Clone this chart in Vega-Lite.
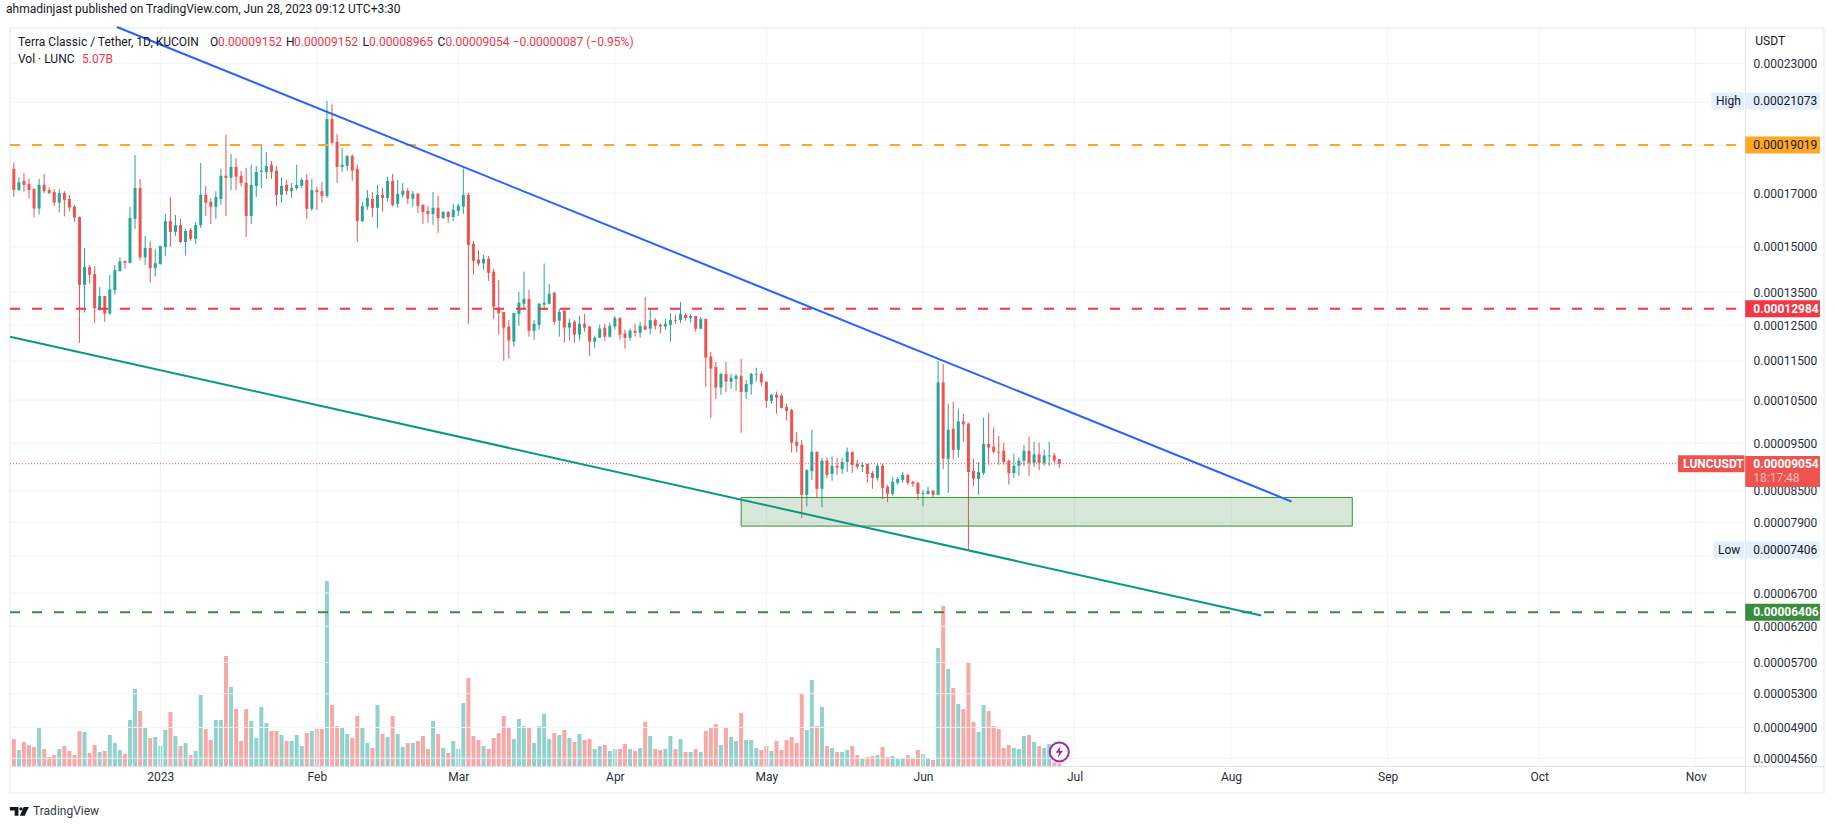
{
  "$schema": "https://vega.github.io/schema/vega-lite/v6.json",
  "autosize": "none",
  "padding": {"left": 10, "top": 28, "right": 11, "bottom": 36},
  "width": 1814,
  "height": 765,
  "background": "white",
  "title": {"text": "ahmadinjast published on TradingView.com, Jun 28, 2023 09:12 UTC+3:30", "anchor": "start", "fontSize": 12, "fontWeight": "normal", "color": "#131722", "offset": 7},
  "datasets": {
    "candles": [
      {"d":"2022-12-03","o":0.0001799,"h":0.0001825,"l":0.0001686,"c":0.0001713,"v":54},
      {"d":"2022-12-04","o":0.0001712,"h":0.0001764,"l":0.0001708,"c":0.0001744,"v":32},
      {"d":"2022-12-05","o":0.0001749,"h":0.0001782,"l":0.0001706,"c":0.0001733,"v":48},
      {"d":"2022-12-06","o":0.0001737,"h":0.0001757,"l":0.0001679,"c":0.0001712,"v":42},
      {"d":"2022-12-07","o":0.0001716,"h":0.0001719,"l":0.0001606,"c":0.0001640,"v":38},
      {"d":"2022-12-08","o":0.0001640,"h":0.0001757,"l":0.0001617,"c":0.0001733,"v":76},
      {"d":"2022-12-09","o":0.0001733,"h":0.0001778,"l":0.0001700,"c":0.0001708,"v":34},
      {"d":"2022-12-10","o":0.0001712,"h":0.0001723,"l":0.0001697,"c":0.0001700,"v":18},
      {"d":"2022-12-11","o":0.0001704,"h":0.0001716,"l":0.0001650,"c":0.0001663,"v":22},
      {"d":"2022-12-12","o":0.0001663,"h":0.0001716,"l":0.0001625,"c":0.0001700,"v":34},
      {"d":"2022-12-13","o":0.0001700,"h":0.0001708,"l":0.0001610,"c":0.0001674,"v":40},
      {"d":"2022-12-14","o":0.0001677,"h":0.0001693,"l":0.0001629,"c":0.0001644,"v":30},
      {"d":"2022-12-15","o":0.0001647,"h":0.0001654,"l":0.0001590,"c":0.0001606,"v":22},
      {"d":"2022-12-16","o":0.0001608,"h":0.0001610,"l":0.0001200,"c":0.0001373,"v":70},
      {"d":"2022-12-17","o":0.0001373,"h":0.0001496,"l":0.0001287,"c":0.0001431,"v":68},
      {"d":"2022-12-18","o":0.0001431,"h":0.0001438,"l":0.0001377,"c":0.0001406,"v":26},
      {"d":"2022-12-19","o":0.0001408,"h":0.0001434,"l":0.0001257,"c":0.0001300,"v":42},
      {"d":"2022-12-20","o":0.0001296,"h":0.0001366,"l":0.0001293,"c":0.0001338,"v":28},
      {"d":"2022-12-21","o":0.0001338,"h":0.0001338,"l":0.0001260,"c":0.0001284,"v":30},
      {"d":"2022-12-22","o":0.0001284,"h":0.0001405,"l":0.0001281,"c":0.0001359,"v":62},
      {"d":"2022-12-23","o":0.0001356,"h":0.0001438,"l":0.0001342,"c":0.0001421,"v":46},
      {"d":"2022-12-24","o":0.0001418,"h":0.0001464,"l":0.0001416,"c":0.0001451,"v":32},
      {"d":"2022-12-25","o":0.0001451,"h":0.0001454,"l":0.0001425,"c":0.0001445,"v":24},
      {"d":"2022-12-26","o":0.0001445,"h":0.0001647,"l":0.0001443,"c":0.0001605,"v":92},
      {"d":"2022-12-27","o":0.0001601,"h":0.0001858,"l":0.0001564,"c":0.0001720,"v":154},
      {"d":"2022-12-28","o":0.0001720,"h":0.0001757,"l":0.0001454,"c":0.0001464,"v":110},
      {"d":"2022-12-29","o":0.0001464,"h":0.0001539,"l":0.0001438,"c":0.0001496,"v":76},
      {"d":"2022-12-30","o":0.0001496,"h":0.0001521,"l":0.0001380,"c":0.0001428,"v":56},
      {"d":"2022-12-31","o":0.0001428,"h":0.0001492,"l":0.0001400,"c":0.0001444,"v":58},
      {"d":"2023-01-01","o":0.0001441,"h":0.0001504,"l":0.0001440,"c":0.0001503,"v":40},
      {"d":"2023-01-02","o":0.0001500,"h":0.0001620,"l":0.0001469,"c":0.0001593,"v":72},
      {"d":"2023-01-03","o":0.0001593,"h":0.0001685,"l":0.0001500,"c":0.0001553,"v":108},
      {"d":"2023-01-04","o":0.0001553,"h":0.0001616,"l":0.0001539,"c":0.0001578,"v":60},
      {"d":"2023-01-05","o":0.0001578,"h":0.0001601,"l":0.0001514,"c":0.0001517,"v":40},
      {"d":"2023-01-06","o":0.0001517,"h":0.0001564,"l":0.0001471,"c":0.0001557,"v":46},
      {"d":"2023-01-07","o":0.0001560,"h":0.0001567,"l":0.0001521,"c":0.0001528,"v":22},
      {"d":"2023-01-08","o":0.0001528,"h":0.0001589,"l":0.0001510,"c":0.0001578,"v":30},
      {"d":"2023-01-09","o":0.0001578,"h":0.0001824,"l":0.0001567,"c":0.0001693,"v":142},
      {"d":"2023-01-10","o":0.0001693,"h":0.0001729,"l":0.0001612,"c":0.0001662,"v":74},
      {"d":"2023-01-11","o":0.0001666,"h":0.0001681,"l":0.0001582,"c":0.0001647,"v":52},
      {"d":"2023-01-12","o":0.0001647,"h":0.0001708,"l":0.0001601,"c":0.0001685,"v":92},
      {"d":"2023-01-13","o":0.0001677,"h":0.0001799,"l":0.0001654,"c":0.0001770,"v":92},
      {"d":"2023-01-14","o":0.0001770,"h":0.0001948,"l":0.0001612,"c":0.0001762,"v":220},
      {"d":"2023-01-15","o":0.0001762,"h":0.0001862,"l":0.0001712,"c":0.0001807,"v":158},
      {"d":"2023-01-16","o":0.0001807,"h":0.0001844,"l":0.0001712,"c":0.0001766,"v":114},
      {"d":"2023-01-17","o":0.0001770,"h":0.0001791,"l":0.0001727,"c":0.0001741,"v":50},
      {"d":"2023-01-18","o":0.0001741,"h":0.0001803,"l":0.0001535,"c":0.0001612,"v":114},
      {"d":"2023-01-19","o":0.0001612,"h":0.0001816,"l":0.0001582,"c":0.0001733,"v":90},
      {"d":"2023-01-20","o":0.0001729,"h":0.0001811,"l":0.0001685,"c":0.0001786,"v":56},
      {"d":"2023-01-21","o":0.0001786,"h":0.0001905,"l":0.0001720,"c":0.0001791,"v":118},
      {"d":"2023-01-22","o":0.0001786,"h":0.0001871,"l":0.0001757,"c":0.0001811,"v":86},
      {"d":"2023-01-23","o":0.0001816,"h":0.0001832,"l":0.0001757,"c":0.0001786,"v":70},
      {"d":"2023-01-24","o":0.0001791,"h":0.0001811,"l":0.0001650,"c":0.0001693,"v":70},
      {"d":"2023-01-25","o":0.0001693,"h":0.0001762,"l":0.0001662,"c":0.0001729,"v":62},
      {"d":"2023-01-26","o":0.0001733,"h":0.0001753,"l":0.0001693,"c":0.0001708,"v":50},
      {"d":"2023-01-27","o":0.0001708,"h":0.0001741,"l":0.0001681,"c":0.0001720,"v":50},
      {"d":"2023-01-28","o":0.0001720,"h":0.0001816,"l":0.0001712,"c":0.0001733,"v":62},
      {"d":"2023-01-29","o":0.0001729,"h":0.0001762,"l":0.0001720,"c":0.0001753,"v":40},
      {"d":"2023-01-30","o":0.0001753,"h":0.0001778,"l":0.0001601,"c":0.0001639,"v":66},
      {"d":"2023-01-31","o":0.0001639,"h":0.0001757,"l":0.0001631,"c":0.0001712,"v":70},
      {"d":"2023-02-01","o":0.0001712,"h":0.0001724,"l":0.0001635,"c":0.0001704,"v":74},
      {"d":"2023-02-02","o":0.0001708,"h":0.0001745,"l":0.0001662,"c":0.0001689,"v":74},
      {"d":"2023-02-03","o":0.0001689,"h":0.0002107,"l":0.0001681,"c":0.0002020,"v":370},
      {"d":"2023-02-04","o":0.0002020,"h":0.0002093,"l":0.0001903,"c":0.0001912,"v":122},
      {"d":"2023-02-05","o":0.0001916,"h":0.0001952,"l":0.0001741,"c":0.0001807,"v":80},
      {"d":"2023-02-06","o":0.0001807,"h":0.0001889,"l":0.0001786,"c":0.0001816,"v":76},
      {"d":"2023-02-07","o":0.0001811,"h":0.0001858,"l":0.0001791,"c":0.0001853,"v":64},
      {"d":"2023-02-08","o":0.0001853,"h":0.0001862,"l":0.0001749,"c":0.0001791,"v":56},
      {"d":"2023-02-09","o":0.0001799,"h":0.0001816,"l":0.0001517,"c":0.0001593,"v":100},
      {"d":"2023-02-10","o":0.0001593,"h":0.0001666,"l":0.0001589,"c":0.0001650,"v":76},
      {"d":"2023-02-11","o":0.0001647,"h":0.0001712,"l":0.0001635,"c":0.0001681,"v":46},
      {"d":"2023-02-12","o":0.0001677,"h":0.0001704,"l":0.0001608,"c":0.0001643,"v":36},
      {"d":"2023-02-13","o":0.0001643,"h":0.0001733,"l":0.0001567,"c":0.0001693,"v":122},
      {"d":"2023-02-14","o":0.0001693,"h":0.0001720,"l":0.0001628,"c":0.0001681,"v":64},
      {"d":"2023-02-15","o":0.0001681,"h":0.0001766,"l":0.0001666,"c":0.0001749,"v":58},
      {"d":"2023-02-16","o":0.0001749,"h":0.0001778,"l":0.0001647,"c":0.0001654,"v":100},
      {"d":"2023-02-17","o":0.0001658,"h":0.0001753,"l":0.0001643,"c":0.0001697,"v":64},
      {"d":"2023-02-18","o":0.0001693,"h":0.0001740,"l":0.0001682,"c":0.0001709,"v":38},
      {"d":"2023-02-19","o":0.0001709,"h":0.0001721,"l":0.0001658,"c":0.0001678,"v":46},
      {"d":"2023-02-20","o":0.0001678,"h":0.0001709,"l":0.0001647,"c":0.0001697,"v":46},
      {"d":"2023-02-21","o":0.0001697,"h":0.0001701,"l":0.0001623,"c":0.0001651,"v":50},
      {"d":"2023-02-22","o":0.0001654,"h":0.0001658,"l":0.0001583,"c":0.0001627,"v":60},
      {"d":"2023-02-23","o":0.0001631,"h":0.0001651,"l":0.0001586,"c":0.0001619,"v":34},
      {"d":"2023-02-24","o":0.0001619,"h":0.0001705,"l":0.0001579,"c":0.0001643,"v":90},
      {"d":"2023-02-25","o":0.0001643,"h":0.0001690,"l":0.0001550,"c":0.0001604,"v":64},
      {"d":"2023-02-26","o":0.0001604,"h":0.0001631,"l":0.0001601,"c":0.0001627,"v":36},
      {"d":"2023-02-27","o":0.0001627,"h":0.0001631,"l":0.0001586,"c":0.0001608,"v":26},
      {"d":"2023-02-28","o":0.0001608,"h":0.0001658,"l":0.0001593,"c":0.0001635,"v":50},
      {"d":"2023-03-01","o":0.0001631,"h":0.0001658,"l":0.0001612,"c":0.0001651,"v":34},
      {"d":"2023-03-02","o":0.0001647,"h":0.0001800,"l":0.0001619,"c":0.0001693,"v":126},
      {"d":"2023-03-03","o":0.0001693,"h":0.0001701,"l":0.0001254,"c":0.0001507,"v":176},
      {"d":"2023-03-04","o":0.0001511,"h":0.0001521,"l":0.0001406,"c":0.0001452,"v":60},
      {"d":"2023-03-05","o":0.0001456,"h":0.0001489,"l":0.0001436,"c":0.0001443,"v":52},
      {"d":"2023-03-06","o":0.0001443,"h":0.0001472,"l":0.0001422,"c":0.0001459,"v":40},
      {"d":"2023-03-07","o":0.0001459,"h":0.0001469,"l":0.0001386,"c":0.0001412,"v":34},
      {"d":"2023-03-08","o":0.0001416,"h":0.0001426,"l":0.0001268,"c":0.0001305,"v":56},
      {"d":"2023-03-09","o":0.0001302,"h":0.0001389,"l":0.0001223,"c":0.0001286,"v":66},
      {"d":"2023-03-10","o":0.0001289,"h":0.0001289,"l":0.0001151,"c":0.0001243,"v":100},
      {"d":"2023-03-11","o":0.0001246,"h":0.0001265,"l":0.0001156,"c":0.0001206,"v":76},
      {"d":"2023-03-12","o":0.0001203,"h":0.0001286,"l":0.0001189,"c":0.0001286,"v":54},
      {"d":"2023-03-13","o":0.0001283,"h":0.0001351,"l":0.0001248,"c":0.0001317,"v":94},
      {"d":"2023-03-14","o":0.0001314,"h":0.0001416,"l":0.0001299,"c":0.0001329,"v":80},
      {"d":"2023-03-15","o":0.0001329,"h":0.0001357,"l":0.0001217,"c":0.0001234,"v":76},
      {"d":"2023-03-16","o":0.0001234,"h":0.0001265,"l":0.0001208,"c":0.0001254,"v":46},
      {"d":"2023-03-17","o":0.0001251,"h":0.0001317,"l":0.0001237,"c":0.0001314,"v":80},
      {"d":"2023-03-18","o":0.0001311,"h":0.0001443,"l":0.0001296,"c":0.0001317,"v":104},
      {"d":"2023-03-19","o":0.0001314,"h":0.0001376,"l":0.0001312,"c":0.0001345,"v":54},
      {"d":"2023-03-20","o":0.0001348,"h":0.0001351,"l":0.0001251,"c":0.0001260,"v":66},
      {"d":"2023-03-21","o":0.0001263,"h":0.0001299,"l":0.0001217,"c":0.0001289,"v":62},
      {"d":"2023-03-22","o":0.0001293,"h":0.0001296,"l":0.0001200,"c":0.0001243,"v":72},
      {"d":"2023-03-23","o":0.0001243,"h":0.0001268,"l":0.0001206,"c":0.0001257,"v":56},
      {"d":"2023-03-24","o":0.0001260,"h":0.0001265,"l":0.0001200,"c":0.0001223,"v":48},
      {"d":"2023-03-25","o":0.0001223,"h":0.0001277,"l":0.0001206,"c":0.0001254,"v":64},
      {"d":"2023-03-26","o":0.0001254,"h":0.0001283,"l":0.0001231,"c":0.0001243,"v":52},
      {"d":"2023-03-27","o":0.0001246,"h":0.0001248,"l":0.0001164,"c":0.0001203,"v":54},
      {"d":"2023-03-28","o":0.0001203,"h":0.0001220,"l":0.0001186,"c":0.0001214,"v":34},
      {"d":"2023-03-29","o":0.0001214,"h":0.0001251,"l":0.0001213,"c":0.0001240,"v":40},
      {"d":"2023-03-30","o":0.0001243,"h":0.0001254,"l":0.0001206,"c":0.0001217,"v":42},
      {"d":"2023-03-31","o":0.0001217,"h":0.0001257,"l":0.0001214,"c":0.0001248,"v":30},
      {"d":"2023-04-01","o":0.0001246,"h":0.0001277,"l":0.0001237,"c":0.0001271,"v":34},
      {"d":"2023-04-02","o":0.0001271,"h":0.0001274,"l":0.0001208,"c":0.0001223,"v":34},
      {"d":"2023-04-03","o":0.0001226,"h":0.0001237,"l":0.0001183,"c":0.0001214,"v":44},
      {"d":"2023-04-04","o":0.0001214,"h":0.0001240,"l":0.0001206,"c":0.0001234,"v":34},
      {"d":"2023-04-05","o":0.0001234,"h":0.0001254,"l":0.0001217,"c":0.0001228,"v":30},
      {"d":"2023-04-06","o":0.0001228,"h":0.0001260,"l":0.0001214,"c":0.0001248,"v":36},
      {"d":"2023-04-07","o":0.0001248,"h":0.0001336,"l":0.0001236,"c":0.0001237,"v":88},
      {"d":"2023-04-08","o":0.0001240,"h":0.0001299,"l":0.0001223,"c":0.0001265,"v":60},
      {"d":"2023-04-09","o":0.0001265,"h":0.0001271,"l":0.0001237,"c":0.0001248,"v":34},
      {"d":"2023-04-10","o":0.0001251,"h":0.0001254,"l":0.0001226,"c":0.0001246,"v":32},
      {"d":"2023-04-11","o":0.0001246,"h":0.0001268,"l":0.0001237,"c":0.0001254,"v":34},
      {"d":"2023-04-12","o":0.0001251,"h":0.0001286,"l":0.0001203,"c":0.0001265,"v":60},
      {"d":"2023-04-13","o":0.0001265,"h":0.0001280,"l":0.0001254,"c":0.0001263,"v":34},
      {"d":"2023-04-14","o":0.0001265,"h":0.0001320,"l":0.0001257,"c":0.0001283,"v":54},
      {"d":"2023-04-15","o":0.0001280,"h":0.0001286,"l":0.0001263,"c":0.0001271,"v":28},
      {"d":"2023-04-16","o":0.0001271,"h":0.0001283,"l":0.0001257,"c":0.0001277,"v":28},
      {"d":"2023-04-17","o":0.0001277,"h":0.0001277,"l":0.0001231,"c":0.0001240,"v":34},
      {"d":"2023-04-18","o":0.0001240,"h":0.0001274,"l":0.0001239,"c":0.0001268,"v":28},
      {"d":"2023-04-19","o":0.0001268,"h":0.0001271,"l":0.0001083,"c":0.0001159,"v":70},
      {"d":"2023-04-20","o":0.0001162,"h":0.0001175,"l":0.0001007,"c":0.0001130,"v":78},
      {"d":"2023-04-21","o":0.0001134,"h":0.0001148,"l":0.0001053,"c":0.0001081,"v":84},
      {"d":"2023-04-22","o":0.0001081,"h":0.0001119,"l":0.0001063,"c":0.0001116,"v":42},
      {"d":"2023-04-23","o":0.0001116,"h":0.0001148,"l":0.0001070,"c":0.0001096,"v":78},
      {"d":"2023-04-24","o":0.0001096,"h":0.0001116,"l":0.0001078,"c":0.0001106,"v":58},
      {"d":"2023-04-25","o":0.0001103,"h":0.0001116,"l":0.0001073,"c":0.0001111,"v":50},
      {"d":"2023-04-26","o":0.0001111,"h":0.0001156,"l":0.0000973,"c":0.0001070,"v":106},
      {"d":"2023-04-27","o":0.0001070,"h":0.0001100,"l":0.0001053,"c":0.0001090,"v":52},
      {"d":"2023-04-28","o":0.0001089,"h":0.0001119,"l":0.0001063,"c":0.0001116,"v":52},
      {"d":"2023-04-29","o":0.0001114,"h":0.0001132,"l":0.0001096,"c":0.0001116,"v":36},
      {"d":"2023-04-30","o":0.0001116,"h":0.0001122,"l":0.0001084,"c":0.0001094,"v":32},
      {"d":"2023-05-01","o":0.0001096,"h":0.0001096,"l":0.0001031,"c":0.0001048,"v":40},
      {"d":"2023-05-02","o":0.0001048,"h":0.0001066,"l":0.0001041,"c":0.0001063,"v":30},
      {"d":"2023-05-03","o":0.0001063,"h":0.0001071,"l":0.0001017,"c":0.0001056,"v":50},
      {"d":"2023-05-04","o":0.0001061,"h":0.0001066,"l":0.0001030,"c":0.0001031,"v":32},
      {"d":"2023-05-05","o":0.0001033,"h":0.0001041,"l":0.0001001,"c":0.0001024,"v":52},
      {"d":"2023-05-06","o":0.0001026,"h":0.0001029,"l":0.0000929,"c":0.0000951,"v":58},
      {"d":"2023-05-07","o":0.0000953,"h":0.0000975,"l":0.0000929,"c":0.0000944,"v":46},
      {"d":"2023-05-08","o":0.0000946,"h":0.0000957,"l":0.0000798,"c":0.0000842,"v":146},
      {"d":"2023-05-09","o":0.0000842,"h":0.0000894,"l":0.0000820,"c":0.0000892,"v":72},
      {"d":"2023-05-10","o":0.0000890,"h":0.0000980,"l":0.0000872,"c":0.0000931,"v":172},
      {"d":"2023-05-11","o":0.0000931,"h":0.0000931,"l":0.0000836,"c":0.0000854,"v":80},
      {"d":"2023-05-12","o":0.0000854,"h":0.0000918,"l":0.0000818,"c":0.0000912,"v":118},
      {"d":"2023-05-13","o":0.0000912,"h":0.0000918,"l":0.0000876,"c":0.0000882,"v":40},
      {"d":"2023-05-14","o":0.0000884,"h":0.0000921,"l":0.0000870,"c":0.0000901,"v":36},
      {"d":"2023-05-15","o":0.0000901,"h":0.0000918,"l":0.0000882,"c":0.0000897,"v":28},
      {"d":"2023-05-16","o":0.0000894,"h":0.0000918,"l":0.0000884,"c":0.0000909,"v":28},
      {"d":"2023-05-17","o":0.0000909,"h":0.0000940,"l":0.0000888,"c":0.0000931,"v":32},
      {"d":"2023-05-18","o":0.0000931,"h":0.0000931,"l":0.0000886,"c":0.0000903,"v":40},
      {"d":"2023-05-19","o":0.0000905,"h":0.0000914,"l":0.0000894,"c":0.0000899,"v":22},
      {"d":"2023-05-20","o":0.0000899,"h":0.0000909,"l":0.0000888,"c":0.0000903,"v":16},
      {"d":"2023-05-21","o":0.0000905,"h":0.0000905,"l":0.0000866,"c":0.0000884,"v":18},
      {"d":"2023-05-22","o":0.0000886,"h":0.0000890,"l":0.0000854,"c":0.0000876,"v":20},
      {"d":"2023-05-23","o":0.0000876,"h":0.0000907,"l":0.0000870,"c":0.0000901,"v":22},
      {"d":"2023-05-24","o":0.0000901,"h":0.0000905,"l":0.0000834,"c":0.0000856,"v":38},
      {"d":"2023-05-25","o":0.0000858,"h":0.0000862,"l":0.0000828,"c":0.0000844,"v":18},
      {"d":"2023-05-26","o":0.0000844,"h":0.0000878,"l":0.0000840,"c":0.0000868,"v":20},
      {"d":"2023-05-27","o":0.0000866,"h":0.0000878,"l":0.0000862,"c":0.0000874,"v":14},
      {"d":"2023-05-28","o":0.0000872,"h":0.0000888,"l":0.0000866,"c":0.0000882,"v":16},
      {"d":"2023-05-29","o":0.0000882,"h":0.0000884,"l":0.0000862,"c":0.0000866,"v":22},
      {"d":"2023-05-30","o":0.0000868,"h":0.0000870,"l":0.0000858,"c":0.0000864,"v":16},
      {"d":"2023-05-31","o":0.0000866,"h":0.0000868,"l":0.0000832,"c":0.0000844,"v":32},
      {"d":"2023-06-01","o":0.0000844,"h":0.0000852,"l":0.0000820,"c":0.0000846,"v":24},
      {"d":"2023-06-02","o":0.0000844,"h":0.0000858,"l":0.0000842,"c":0.0000850,"v":16},
      {"d":"2023-06-03","o":0.0000850,"h":0.0000852,"l":0.0000838,"c":0.0000842,"v":12},
      {"d":"2023-06-04","o":0.0000842,"h":0.0001149,"l":0.0000841,"c":0.0001094,"v":236},
      {"d":"2023-06-05","o":0.0001094,"h":0.0001143,"l":0.0000894,"c":0.0000916,"v":320},
      {"d":"2023-06-06","o":0.0000916,"h":0.0001041,"l":0.0000846,"c":0.0000980,"v":194},
      {"d":"2023-06-07","o":0.0000982,"h":0.0001046,"l":0.0000914,"c":0.0000935,"v":156},
      {"d":"2023-06-08","o":0.0000935,"h":0.0001029,"l":0.0000918,"c":0.0000999,"v":124},
      {"d":"2023-06-09","o":0.0000999,"h":0.0001017,"l":0.0000953,"c":0.0000992,"v":114},
      {"d":"2023-06-10","o":0.0000994,"h":0.0000996,"l":0.0000741,"c":0.0000888,"v":206},
      {"d":"2023-06-11","o":0.0000890,"h":0.0000916,"l":0.0000860,"c":0.0000874,"v":88},
      {"d":"2023-06-12","o":0.0000874,"h":0.0000909,"l":0.0000842,"c":0.0000888,"v":68},
      {"d":"2023-06-13","o":0.0000886,"h":0.0001008,"l":0.0000882,"c":0.0000948,"v":122},
      {"d":"2023-06-14","o":0.0000948,"h":0.0001019,"l":0.0000903,"c":0.0000940,"v":110},
      {"d":"2023-06-15","o":0.0000942,"h":0.0000985,"l":0.0000927,"c":0.0000931,"v":80},
      {"d":"2023-06-16","o":0.0000931,"h":0.0000966,"l":0.0000903,"c":0.0000929,"v":74},
      {"d":"2023-06-17","o":0.0000933,"h":0.0000951,"l":0.0000903,"c":0.0000909,"v":36},
      {"d":"2023-06-18","o":0.0000912,"h":0.0000914,"l":0.0000862,"c":0.0000886,"v":42},
      {"d":"2023-06-19","o":0.0000886,"h":0.0000927,"l":0.0000876,"c":0.0000901,"v":36},
      {"d":"2023-06-20","o":0.0000901,"h":0.0000918,"l":0.0000880,"c":0.0000912,"v":34},
      {"d":"2023-06-21","o":0.0000912,"h":0.0000946,"l":0.0000901,"c":0.0000933,"v":60},
      {"d":"2023-06-22","o":0.0000933,"h":0.0000964,"l":0.0000880,"c":0.0000907,"v":62},
      {"d":"2023-06-23","o":0.0000907,"h":0.0000953,"l":0.0000899,"c":0.0000925,"v":48},
      {"d":"2023-06-24","o":0.0000925,"h":0.0000951,"l":0.0000892,"c":0.0000907,"v":40},
      {"d":"2023-06-25","o":0.0000907,"h":0.0000935,"l":0.0000901,"c":0.0000923,"v":36},
      {"d":"2023-06-26","o":0.0000921,"h":0.0000953,"l":0.0000901,"c":0.0000923,"v":44},
      {"d":"2023-06-27","o":0.0000923,"h":0.0000929,"l":0.0000907,"c":0.0000912,"v":7},
      {"d":"2023-06-28","o":0.00009152,"h":0.00009152,"l":0.00008965,"c":0.00009054,"v":5.07}
    ],
    "months": [
      {"d":"2023-01-01"},{"d":"2023-02-01"},{"d":"2023-03-01"},{"d":"2023-04-01"},{"d":"2023-05-01"},{"d":"2023-06-01"},
      {"d":"2023-07-01"},{"d":"2023-08-01"},{"d":"2023-09-01"},{"d":"2023-10-01"},{"d":"2023-11-01"}
    ],
    "prices": [
      {"p":0.00023},{"p":0.00021},{"p":0.00019},{"p":0.00017},{"p":0.00015},{"p":0.000135},{"p":0.000125},{"p":0.000115},{"p":0.000105},
      {"p":0.000095},{"p":0.000085},{"p":0.000079},{"p":0.000073},{"p":0.000067},{"p":0.000062},{"p":0.000057},{"p":0.000053},{"p":0.000049},{"p":0.0000456}
    ],
    "levels": [
      {"p":0.00019019,"color":"#ffa726"},
      {"p":0.00012984,"color":"#f23645"},
      {"p":0.00006406,"color":"#388e3c"}
    ],
    "trendlines": [
      {"line":"resistance","d":"2022-12-23T10:00:00Z","p":0.0002503},
      {"line":"resistance","d":"2023-08-13","p":0.0000829},
      {"line":"support","d":"2022-12-02T06:00:00Z","p":0.0001217},
      {"line":"support","d":"2023-08-07","p":0.00006357}
    ],
    "zone": [{"start":"2023-04-26","end":"2023-08-25","top":0.0000837,"bottom":0.0000783}],
    "tags": [
      {"from":"2023-11-10T19:12:00Z","to":"2023-11-25T14:24:00Z","p":0.00021073,"h":17,"color":"#e3effd"},
      {"from":"2023-11-04T02:24:00Z","to":"2023-11-10T16:00:00Z","p":0.00021073,"h":17,"color":"#e3effd"},
      {"from":"2023-11-10T19:12:00Z","to":"2023-11-25T14:24:00Z","p":0.00019019,"h":17,"color":"#ffa726"},
      {"from":"2023-11-10T19:12:00Z","to":"2023-11-25T14:24:00Z","p":0.00012984,"h":17,"color":"#f23645"},
      {"from":"2023-11-10T19:12:00Z","to":"2023-11-25T14:24:00Z","p":0.0000889,"h":31,"color":"#ef5350"},
      {"from":"2023-10-28T12:00:00Z","to":"2023-11-10T16:00:00Z","p":0.00009054,"h":17,"color":"#ef5350"},
      {"from":"2023-11-10T19:12:00Z","to":"2023-11-25T14:24:00Z","p":0.00007406,"h":17,"color":"#e3effd"},
      {"from":"2023-11-04T12:00:00Z","to":"2023-11-10T16:00:00Z","p":0.00007406,"h":17,"color":"#e3effd"},
      {"from":"2023-11-10T19:12:00Z","to":"2023-11-25T14:24:00Z","p":0.00006406,"h":17,"color":"#388e3c"}
    ],
    "notes": [
      {"label":"USDT","at":"2023-11-12T19:12:00Z","p":0.0002422,"color":"#131722"},
      {"label":"Terra Classic / Tether, 1D, KUCOIN","at":"2022-12-03T19:40:00Z","p":0.0002419,"color":"#131722"},
      {"label":"O","at":"2023-01-10T20:10:00Z","p":0.0002419,"color":"#131722"},
      {"label":"0.00009152","at":"2023-01-12T10:20:00Z","p":0.0002419,"color":"#f23645"},
      {"label":"H","at":"2023-01-25T21:20:00Z","p":0.0002419,"color":"#131722"},
      {"label":"0.00009152","at":"2023-01-27T11:30:00Z","p":0.0002419,"color":"#f23645"},
      {"label":"L","at":"2023-02-10T01:00:00Z","p":0.0002419,"color":"#131722"},
      {"label":"0.00008965","at":"2023-02-11T08:00:00Z","p":0.0002419,"color":"#f23645"},
      {"label":"C","at":"2023-02-24T21:20:00Z","p":0.0002419,"color":"#131722"},
      {"label":"0.00009054","at":"2023-02-26T11:30:00Z","p":0.0002419,"color":"#f23645"},
      {"label":"−0.00000087 (−0.95%)","at":"2023-03-11T17:45:00Z","p":0.0002419,"color":"#f23645"},
      {"label":"Vol · LUNC","at":"2022-12-03T19:40:00Z","p":0.0002323,"color":"#131722"},
      {"label":"5.07B","at":"2022-12-16T12:00:00Z","p":0.0002323,"color":"#f23645"},
      {"label":"High","at":"2023-11-05T00:00:00Z","p":0.00021073,"color":"#131722"},
      {"label":"0.00021073","at":"2023-11-12T09:36:00Z","p":0.00021073,"color":"#131722"},
      {"label":"0.00019019","at":"2023-11-12T09:36:00Z","p":0.00019019,"color":"#131722"},
      {"label":"Low","at":"2023-11-05T09:36:00Z","p":0.00007406,"color":"#131722"},
      {"label":"0.00007406","at":"2023-11-12T09:36:00Z","p":0.00007406,"color":"#131722"},
      {"label":"18:17:48","at":"2023-11-12T09:36:00Z","p":0.0000875,"color":"#f9bcbb"},
      {"label":"TradingView","at":"2022-12-06T19:12:00Z","p":0.0000403,"color":"#363a45"}
    ],
    "boldNotes": [
      {"label":"0.00012984","at":"2023-11-12T09:36:00Z","p":0.00012984},
      {"label":"0.00009054","at":"2023-11-12T09:36:00Z","p":0.00009054},
      {"label":"0.00006406","at":"2023-11-12T09:36:00Z","p":0.00006406},
      {"label":"LUNCUSDT","at":"2023-10-29T12:00:00Z","p":0.00009054}
    ],
    "logo": [{"d":"2022-12-04T02:24:00Z","p":0.0000403}],
    "flash": [{"d":"2023-06-28","p":0.00004628}]
  },
  "layer": [
    {
      "data": {"name": "candles"},
      "mark": {"type": "bar", "width": 4, "opacity": 0.5},
      "encoding": {
        "x": {"field": "d", "type": "temporal", "title": null,
          "scale": {"type": "utc", "domain": [1669959936000, 1700991360000], "padding": 0},
          "axis": {
            "orient": "bottom", "offset": -27, "title": null, "grid": false, "ticks": false,
            "domainColor": "#e0e3eb", "domainWidth": 1,
            "values": [1672531200000, 1675209600000, 1677628800000, 1680307200000, 1682899200000, 1685577600000, 1688169600000, 1690848000000, 1693526400000, 1696118400000, 1698796800000],
            "labelExpr": "utcmonth(datum.value) == 0 ? '2023' : utcFormat(datum.value, '%b')",
            "labelFontSize": 12, "labelColor": "#2a2e39", "labelPadding": 5, "labelOverlap": false, "labelFlush": false
          }
        },
        "y": {"field": "v", "type": "quantitative", "scale": {"domain": [-54, 1476], "nice": false, "zero": false}, "axis": null},
        "y2": {"datum": 0},
        "color": {"condition": {"test": "datum.c >= datum.o", "value": "#26a69a"}, "value": "#ef5350"}
      }
    },
    {
      "encoding": {
        "y": {"scale": {"type": "log", "domain": [0.00004206, 0.0002497], "nice": false}}
      },
      "layer": [
        {
          "data": {"name": "months"},
          "mark": {"type": "rule", "color": "#f0f3fa", "strokeWidth": 1},
          "encoding": {
            "x": {"field": "d", "type": "temporal"},
            "y": {"datum": 0.0002497, "type": "quantitative"},
            "y2": {"datum": 0.00004479}
          }
        },
        {
          "data": {"name": "prices"},
          "mark": {"type": "rule", "color": "#f0f3fa", "strokeWidth": 1},
          "encoding": {
            "y": {"field": "p", "type": "quantitative", "title": null,
              "axis": {
                "orient": "right", "offset": -79, "title": null, "grid": false, "ticks": false,
                "domainColor": "#e0e3eb", "domainWidth": 1,
                "values": [0.00023, 0.00017, 0.00015, 0.000135, 0.000125, 0.000115, 0.000105, 0.000095, 0.000085, 0.000079, 0.000067, 0.000062, 0.000057, 0.000053, 0.000049, 0.0000456],
                "format": ".8f", "labelFontSize": 12, "labelColor": "#2a2e39", "labelPadding": 8, "labelOverlap": false, "labelFlush": false
              }
            },
            "x": {"datum": 1669959936000, "type": "temporal"},
            "x2": {"datum": 1699643520000}
          }
        },
        {
          "data": {"name": "candles"},
          "mark": {"type": "rule", "strokeWidth": 1},
          "encoding": {
            "x": {"field": "d", "type": "temporal"},
            "y": {"field": "h", "type": "quantitative"},
            "y2": {"field": "l"},
            "color": {"condition": {"test": "datum.c >= datum.o", "value": "#26a69a"}, "value": "#ef5350"}
          }
        },
        {
          "data": {"name": "candles"},
          "mark": {"type": "rule", "strokeWidth": 3},
          "encoding": {
            "x": {"field": "d", "type": "temporal"},
            "y": {"field": "o", "type": "quantitative"},
            "y2": {"field": "c"},
            "color": {"condition": {"test": "datum.c >= datum.o", "value": "#26a69a"}, "value": "#ef5350"}
          }
        },
        {
          "data": {"name": "zone"},
          "mark": {"type": "rect", "fill": "#388e3c", "fillOpacity": 0.2, "stroke": "#388e3c", "strokeWidth": 1},
          "encoding": {
            "x": {"field": "start", "type": "temporal"},
            "x2": {"field": "end"},
            "y": {"field": "top", "type": "quantitative"},
            "y2": {"field": "bottom"}
          }
        },
        {
          "data": {"name": "levels"},
          "mark": {"type": "rule", "strokeWidth": 2, "strokeDash": [10, 12]},
          "encoding": {
            "y": {"field": "p", "type": "quantitative"},
            "x": {"datum": 1669959936000, "type": "temporal"},
            "x2": {"datum": 1699643520000},
            "color": {"field": "color", "type": "nominal", "scale": null, "legend": null}
          }
        },
        {
          "data": {"values": [{"p": 0.00009054}]},
          "mark": {"type": "rule", "strokeWidth": 1, "strokeDash": [1, 2], "color": "#ef5350"},
          "encoding": {
            "y": {"field": "p", "type": "quantitative"},
            "x": {"datum": 1669959936000, "type": "temporal"},
            "x2": {"datum": 1698494400000}
          }
        },
        {
          "data": {"name": "trendlines"},
          "mark": {"type": "line", "strokeWidth": 2},
          "encoding": {
            "x": {"field": "d", "type": "temporal"},
            "y": {"field": "p", "type": "quantitative"},
            "color": {"field": "line", "type": "nominal", "scale": {"domain": ["resistance", "support"], "range": ["#2962ff", "#089981"]}, "legend": null}
          }
        },
        {
          "data": {"name": "tags"},
          "mark": {"type": "rule"},
          "encoding": {
            "x": {"field": "from", "type": "temporal"},
            "x2": {"field": "to"},
            "y": {"field": "p", "type": "quantitative"},
            "strokeWidth": {"field": "h", "type": "quantitative", "scale": null, "legend": null},
            "color": {"field": "color", "type": "nominal", "scale": null, "legend": null}
          }
        },
        {
          "data": {"name": "notes"},
          "mark": {"type": "text", "align": "left", "baseline": "middle", "fontSize": 12},
          "encoding": {
            "x": {"field": "at", "type": "temporal"},
            "y": {"field": "p", "type": "quantitative"},
            "text": {"field": "label"},
            "color": {"field": "color", "type": "nominal", "scale": null, "legend": null}
          }
        },
        {
          "data": {"name": "boldNotes"},
          "mark": {"type": "text", "align": "left", "baseline": "middle", "fontSize": 12, "fontWeight": "bold", "color": "white"},
          "encoding": {
            "x": {"field": "at", "type": "temporal"},
            "y": {"field": "p", "type": "quantitative"},
            "text": {"field": "label"}
          }
        },
        {
          "data": {"name": "logo"},
          "mark": {"type": "point", "filled": true, "opacity": 1, "color": "#131722", "size": 361, "shape": "M-1,-.47 L-.1,-.47 L-.1,.47 L-.5,.47 L-.5,-.1 L-1,-.1 Z M.33,-.27 A.17,.17 0 1 1 -.01,-.27 A.17,.17 0 1 1 .33,-.27 Z M.45,-.47 L1,-.47 L.55,.47 L.05,.47 Z"},
          "encoding": {
            "x": {"field": "d", "type": "temporal"},
            "y": {"field": "p", "type": "quantitative"}
          }
        },
        {
          "data": {"name": "flash"},
          "mark": {"type": "point", "shape": "circle", "filled": false, "fill": "white", "fillOpacity": 1, "stroke": "#9c27b0", "strokeWidth": 2, "opacity": 1, "size": 360},
          "encoding": {
            "x": {"field": "d", "type": "temporal"},
            "y": {"field": "p", "type": "quantitative"}
          }
        },
        {
          "data": {"name": "flash"},
          "mark": {"type": "point", "filled": true, "opacity": 1, "color": "#9c27b0", "size": 144, "shape": "M.2,-1 L-.6,.15 L-.05,.15 L-.25,1 L.6,-.2 L.05,-.2 Z"},
          "encoding": {
            "x": {"field": "d", "type": "temporal"},
            "y": {"field": "p", "type": "quantitative"}
          }
        }
      ]
    }
  ],
  "resolve": {"scale": {"y": "independent"}, "axis": {"y": "independent"}},
  "config": {
    "font": "Roboto",
    "view": {"stroke": "#f0f3fa", "strokeWidth": 2}
  }
}
